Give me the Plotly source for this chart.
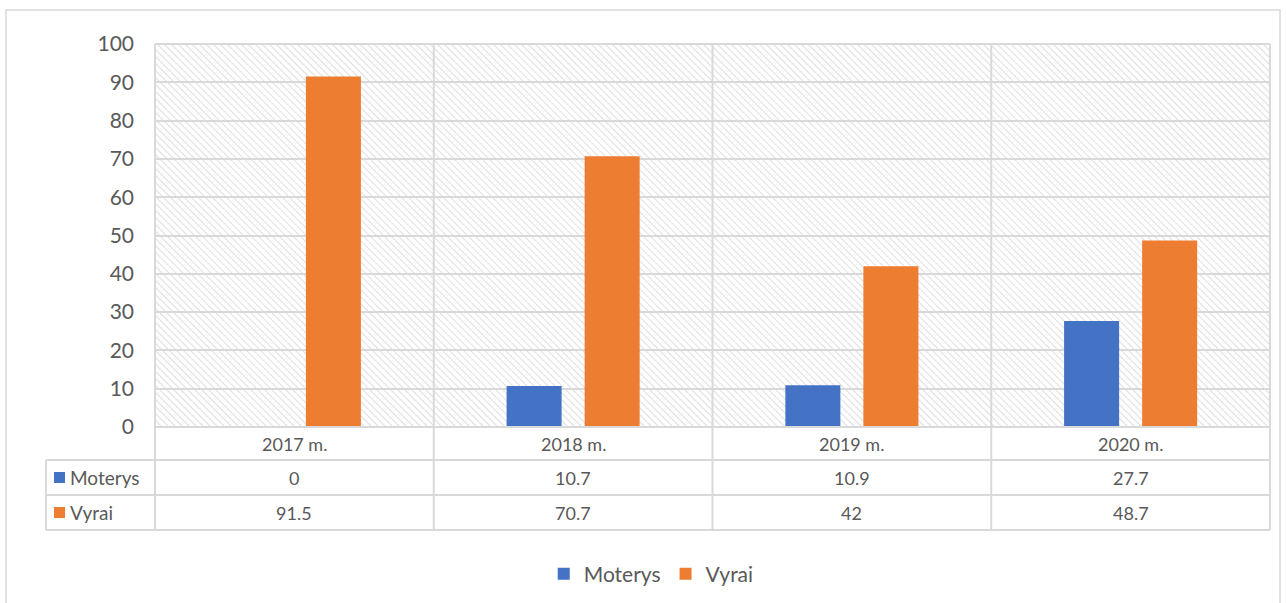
import plotly.graph_objects as go

# ---- data ----
categories = ["2017 m.", "2018 m.", "2019 m.", "2020 m."]
series_names = ["Moterys", "Vyrai"]
moterys = [0, 10.7, 10.9, 27.7]
vyrai = [91.5, 70.7, 42, 48.7]
series_values = [moterys, vyrai]
series_colors = ["#4472C4", "#ED7D31"]
y_ticks = list(range(0, 101, 10))

# ---- geometry helpers (pixel -> paper) ----
W, H = 1287, 603
L, R, T, B = 155, 1270, 44, 427
GRID = "#d9d9d9"
TXT = "#595959"
FONT = "Lato"


def px(x):
    return (x - L) / (R - L)


def py(y):
    return (B - y) / (B - T)


fig = go.Figure()
for name, vals, col in zip(series_names, series_values, series_colors):
    fig.add_trace(go.Bar(x=categories, y=vals, name=name, marker_color=col,
                         marker_line_width=0))

shapes = []

# hatch background in plot area ("\" diagonal lines)
segs = []
step = 7
c = (L - B)
while c < (R - T):
    y0 = max(T, L - c)
    y1 = min(B, R - c)
    if y1 > y0:
        x0 = y0 + c
        x1 = y1 + c
        segs.append(f"M{px(x0):.5f},{py(y0):.5f}L{px(x1):.5f},{py(y1):.5f}")
    c += step
shapes.append(dict(type="path", xref="paper", yref="paper", path="".join(segs),
                   line=dict(color="#e2e2e2", width=1.1), layer="below"))

# outer frame
shapes.append(dict(type="rect", xref="paper", yref="paper",
                   x0=px(6), x1=px(1280), y0=py(610), y1=py(10),
                   line=dict(color=GRID, width=1.5), fillcolor="rgba(0,0,0,0)", layer="below"))

# top border of plot area
shapes.append(dict(type="line", xref="paper", yref="paper", x0=0, x1=1, y0=1, y1=1,
                   line=dict(color=GRID, width=2)))

# table horizontal lines
row_lines = [(L, B), (46, 460), (46, 495), (46, 530)]
for x_start, yy in row_lines:
    shapes.append(dict(type="line", xref="paper", yref="paper",
                       x0=px(x_start), x1=1, y0=py(yy), y1=py(yy),
                       line=dict(color=GRID, width=2)))

# vertical lines (category boundaries through plot & table)
n = len(categories)
for i in range(n + 1):
    xp = i / n
    shapes.append(dict(type="line", xref="paper", yref="paper",
                       x0=xp, x1=xp, y0=1, y1=py(530),
                       line=dict(color=GRID, width=2)))
shapes.append(dict(type="line", xref="paper", yref="paper",
                   x0=px(46), x1=px(46), y0=py(460), y1=py(530),
                   line=dict(color=GRID, width=2)))

annotations = []
for cat in categories:
    annotations.append(dict(x=cat, xref="x", y=py(443.5), yref="paper", text=cat,
                            showarrow=False, font=dict(family=FONT, size=18, color=TXT),
                            xanchor="center", yanchor="middle"))

row_centers = [477.5, 512.5]
for name, vals, col, yc in zip(series_names, series_values, series_colors, row_centers):
    shapes.append(dict(type="rect", xref="paper", yref="paper",
                       x0=px(54), x1=px(65), y0=py(yc + 5.5), y1=py(yc - 5.5),
                       fillcolor=col, line=dict(width=0)))
    annotations.append(dict(x=px(68), xref="paper", y=py(yc), yref="paper", text=name,
                            showarrow=False, font=dict(family=FONT, size=19, color=TXT),
                            xanchor="left", yanchor="middle"))
    for cat, v in zip(categories, vals):
        annotations.append(dict(x=cat, xref="x", y=py(yc), yref="paper", text=f"{v:g}",
                                showarrow=False, font=dict(family=FONT, size=18, color=TXT),
                                xanchor="center", yanchor="middle"))

fig.update_layout(
    width=W, height=H,
    margin=dict(l=L, r=W - R, t=T, b=H - B, pad=0),
    paper_bgcolor="white", plot_bgcolor="rgba(0,0,0,0)",
    barmode="group", bargap=0.44, bargroupgap=0.295,
    shapes=shapes, annotations=annotations,
    font=dict(family=FONT, color=TXT),
    legend=dict(orientation="h", xref="container", yref="container",
                x=0.506, xanchor="center", y=0.048, yanchor="middle",
                font=dict(family=FONT, size=21, color=TXT), itemwidth=30),
    xaxis=dict(showticklabels=False, showgrid=False, zeroline=False, showline=False,
               ticks=""),
    yaxis=dict(range=[0, 100], tickvals=y_ticks, showgrid=True, gridcolor=GRID,
               gridwidth=2, zeroline=False, showline=False, ticks="",
               ticklabelstandoff=20, tickfont=dict(family=FONT, size=21, color=TXT)),
)

fig.write_html("out.html", config={"displayModeBar": False},
               post_script="document.body.style.margin='0';")
